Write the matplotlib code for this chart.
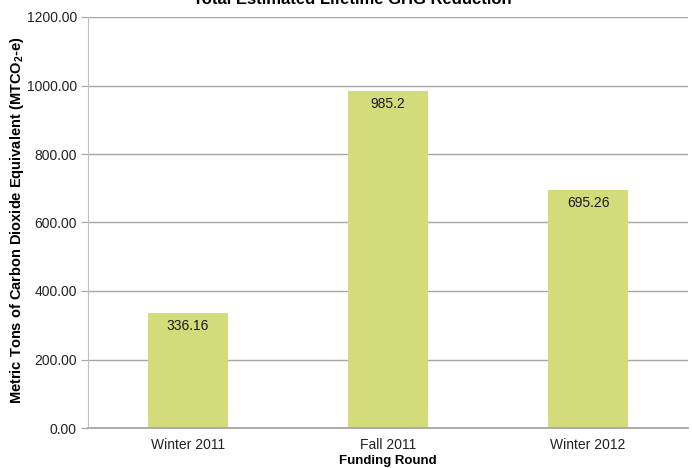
import matplotlib
matplotlib.use("Agg")
import matplotlib.pyplot as plt

plt.rcParams['font.family'] = ['Liberation Sans', 'DejaVu Sans']
plt.rcParams['mathtext.fontset'] = 'custom'
plt.rcParams['mathtext.rm'] = 'Liberation Sans:bold'
plt.rcParams['mathtext.bf'] = 'Liberation Sans:bold'

# funding rounds and lifetime GHG reduction
rounds = ['Winter 2011', 'Fall 2011', 'Winter 2012']
reduction = [336.16, 985.2, 695.26]
bar_labels = ['336.16', '985.2', '695.26']
yticks = [0, 200, 400, 600, 800, 1000, 1200]

fig = plt.figure(figsize=(6.92, 4.68), dpi=100)
ax = fig.add_axes([88/692, 1 - 428/468, 600/692, 411/468])

x = range(len(rounds))
ax.bar(x, reduction, width=0.4, color='#D4DB7B', zorder=2)
for i, v in enumerate(reduction):
    ax.text(i, v - 38, bar_labels[i], ha='center', va='center', fontsize=10, color='#1a1a1a', zorder=3)

ax.set_xlim(-0.5, 2.5)
ax.set_ylim(0, 1200)
ax.set_yticks(yticks)
ax.set_yticklabels(['%.2f' % t for t in yticks], fontsize=10, color='#222222')
ax.set_xticks(list(x))
ax.set_xticklabels(rounds, fontsize=10, color='#222222')
ax.tick_params(axis='x', length=0, pad=7)
ax.tick_params(axis='y', length=5, color='#A6A6A6', pad=3)
ax.yaxis.grid(True, color='#A6A6A6', linewidth=1)
ax.set_axisbelow(True)

for s in ['top', 'right']:
    ax.spines[s].set_visible(False)
ax.spines['left'].set_color('#BFBFBF')
ax.spines['bottom'].set_color('#A6A6A6')
ax.spines['bottom'].set_linewidth(1.3)

fig.text(352/692, 1 - 4.5/468, 'Total Estimated Lifetime GHG Reduction',
         ha='center', va='baseline', fontsize=12, fontweight='bold')
fig.text(388/692, 1 - 461/468, 'Funding Round', ha='center', va='center',
         fontsize=9.5, fontweight='bold')
fig.text(17/692, 1 - 220/468, r'Metric Tons of Carbon Dioxide Equivalent (MTCO$_{\mathbf{2}}$-e)',
         ha='center', va='center', rotation=90, fontsize=10.5, fontweight='bold')

fig.savefig('out.png', dpi=100)
